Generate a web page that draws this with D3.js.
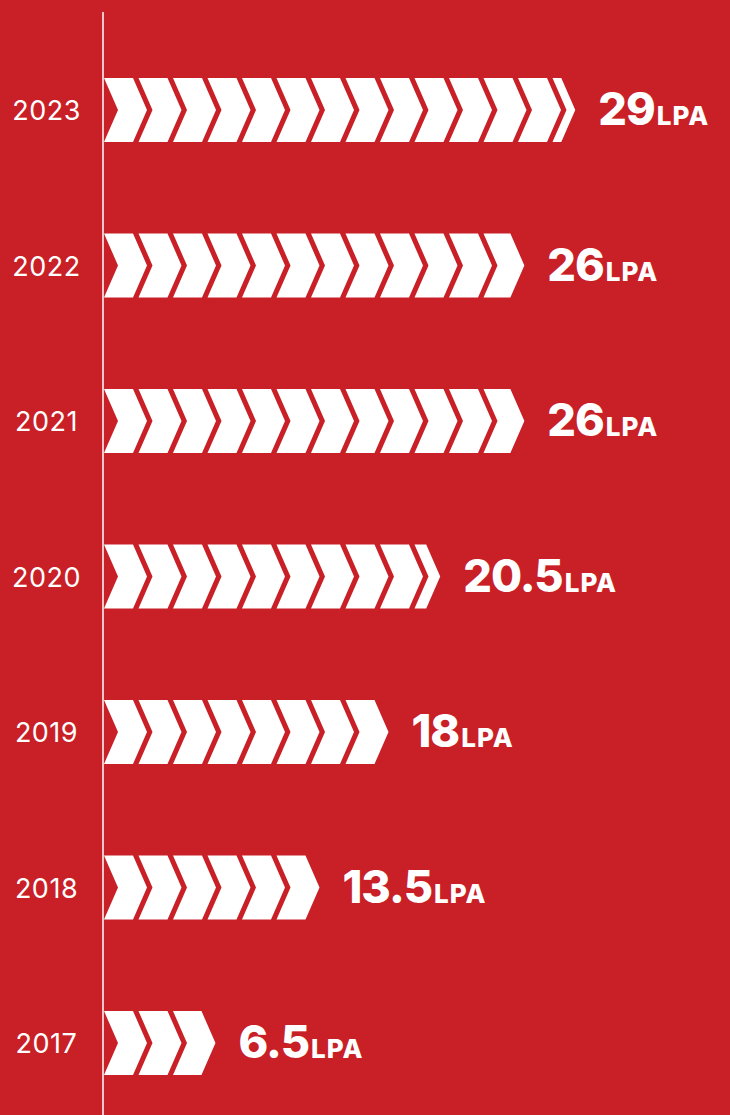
<!DOCTYPE html>
<html>
<head>
<meta charset="utf-8">
<script src="https://cdn.jsdelivr.net/npm/d3@7"></script>
<style>
  html, body { margin: 0; padding: 0; background: #c91f26; }
  svg { display: block; }
</style>
</head>
<body>
<svg id="chart"></svg>
<script>
// placement packages, LPA per year
var years = ["2023", "2022", "2021", "2020", "2019", "2018", "2017"];
var packages = [29, 26, 26, 20.5, 18, 13.5, 6.5];
var unit = "LPA";

var width = 730, height = 1115;
var axisX = 103;
var pitch = 34.5, bodyW = 29, tip = 14, rowH = 64;

var svg = d3.select("#chart")
    .attr("width", width)
    .attr("height", height);

svg.append("rect")
    .attr("width", width)
    .attr("height", height)
    .attr("fill", "#c91f26");

var y = d3.scalePoint().domain(years).range([110, 1043]);

// one chevron is ~2.18 LPA wide
var x = d3.scaleLinear().domain([0, 2.18]).range([0, pitch]);

var rows = years.map(function(yr, i) {
    var w = x(packages[i]);
    var full = Math.floor(w / pitch);
    var rest = (w - full * pitch) * bodyW / pitch;
    var chev = d3.range(full).map(function(k) { return { x0: axisX + 1 + k * pitch, bw: bodyW }; });
    // too thin a remainder is not worth a chevron
    if (rest > 8) chev.push({ x0: axisX + 1 + full * pitch, bw: rest });
    var last = chev[chev.length - 1];
    return { year: yr, value: packages[i], chev: chev, end: last.x0 + last.bw + tip };
});

function chevronPath(c, cy) {
    var t = cy - rowH / 2, b = cy + rowH / 2;
    return "M" + c.x0 + "," + t +
        "L" + (c.x0 + c.bw) + "," + t +
        "L" + (c.x0 + c.bw + tip) + "," + cy +
        "L" + (c.x0 + c.bw) + "," + b +
        "L" + c.x0 + "," + b +
        "L" + (c.x0 + tip) + "," + cy + "Z";
}

var g = svg.selectAll(".row")
    .data(rows)
    .enter().append("g")
    .attr("class", "row");

g.selectAll("path")
    .data(function(d) { return d.chev.map(function(c) { return { c: c, cy: y(d.year) }; }); })
    .enter().append("path")
    .attr("d", function(d) { return chevronPath(d.c, d.cy); })
    .attr("fill", "#ffffff");

g.append("text")
    .attr("x", 46.5)
    .attr("y", function(d) { return y(d.year) + 10; })
    .attr("text-anchor", "middle")
    .attr("font-family", "Inter, 'Noto Sans', sans-serif")
    .attr("font-size", "27px")
    .attr("letter-spacing", "0.5px")
    .attr("fill", "#ffffff")
    .text(function(d) { return d.year; });

var lbl = g.append("text")
    .attr("x", function(d) { return d.end + 23; })
    .attr("y", function(d) { return y(d.year) + 15; })
    .attr("font-family", "Inter, 'Noto Sans', sans-serif")
    .attr("font-weight", 800)
    .attr("fill", "#ffffff");

lbl.append("tspan")
    .attr("font-size", "45px")
    .attr("letter-spacing", "-1px")
    .text(function(d) { return d.value; });

lbl.append("tspan")
    .attr("font-size", "26px")
    .attr("dx", 2)
    .attr("letter-spacing", "1px")
    .text(unit);

svg.append("line")
    .attr("x1", axisX).attr("x2", axisX)
    .attr("y1", 12).attr("y2", height)
    .attr("stroke", "#ffffff")
    .attr("stroke-width", 1.5);
</script>
</body>
</html>
